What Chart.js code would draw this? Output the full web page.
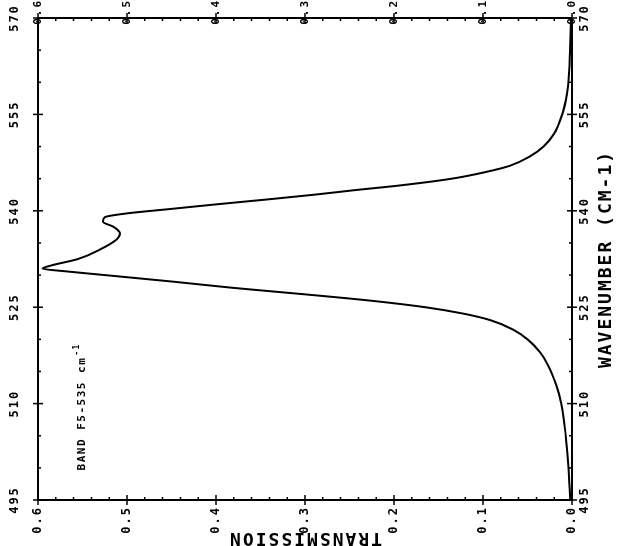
<!DOCTYPE html>
<html>
<head>
<meta charset="utf-8">
<script src="https://cdn.jsdelivr.net/npm/chart.js@4.4.1/dist/chart.umd.min.js"></script>
<style>
html, body { margin: 0; padding: 0; background: #fff; overflow: hidden; }
/* the whole plot is drawn upright, then turned a quarter turn to the left */
#wrap { position: absolute; left: 0; top: 0; width: 546px; height: 617px;
        transform-origin: 0 0; transform: translate(0, 546px) rotate(-90deg); }
</style>
</head>
<body>
<div id="wrap"><canvas id="c" width="546" height="617"></canvas></div>
<script>
// band profile
var wavenumber = [495, 500, 505, 510, 513, 516, 518, 520, 521.5, 523, 524, 525, 526, 527, 528, 529, 530, 530.6, 531,
                  531.5, 532.5, 534, 535.5, 536.5, 537.5, 538.3, 539, 539.6, 540.3, 541, 541.8, 542.5, 543.2, 544,
                  545, 546, 547, 548.5, 550, 552, 555, 558, 562, 566, 570];
var transmission = [0.002, 0.004, 0.007, 0.012, 0.018, 0.027, 0.036, 0.050, 0.066, 0.092, 0.122, 0.165, 0.225, 0.300,
                    0.380, 0.450, 0.525, 0.570, 0.595, 0.585, 0.555, 0.530, 0.512, 0.508, 0.515, 0.527, 0.525, 0.500,
                    0.450, 0.400, 0.340, 0.290, 0.245, 0.190, 0.135, 0.098, 0.070, 0.047, 0.032, 0.020, 0.011, 0.006,
                    0.003, 0.002, 0.001];

var xMajor = [495, 510, 525, 540, 555, 570];
var yMajor = [0, 0.1, 0.2, 0.3, 0.4, 0.5, 0.6];
var xMinorStep = 5;
var yMinorStep = 0.02;

var bandText = "BAND F5-535 cm";
var bandSup = "-1";

var points = wavenumber.map(function (w, i) { return { x: w, y: transmission[i] }; });

var monoFont = "'DejaVu Sans Mono', 'Liberation Mono', monospace";

// ticks that cross the frame, small inner ticks, and the band note
var plotterTicks = {
    id: "plotterTicks",
    beforeDraw: function (chart) {
        chart.ctx.letterSpacing = "2px";
    },
    afterDraw: function (chart) {
        var ctx = chart.ctx;
        var a = chart.chartArea;
        var sx = chart.scales.x;
        var sy = chart.scales.y;
        ctx.save();
        ctx.strokeStyle = "#000";
        ctx.lineWidth = 1.5;
        ctx.beginPath();
        for (var w = sx.min; w <= sx.max + 0.001; w += xMinorStep) {
            var px = sx.getPixelForValue(w);
            var major = xMajor.indexOf(Math.round(w)) >= 0;
            var o = major ? 5 : 0;
            var l = major ? 5 : 3;
            ctx.moveTo(px, a.top - o); ctx.lineTo(px, a.top + l);
            ctx.moveTo(px, a.bottom + o); ctx.lineTo(px, a.bottom - l);
        }
        for (var k = 0; k <= 30; k++) {
            var t = k * yMinorStep;
            var py = sy.getPixelForValue(t);
            var maj = k % 5 === 0;
            var o2 = maj ? 5 : 0;
            var l2 = maj ? 5 : 3;
            ctx.moveTo(a.left - o2, py); ctx.lineTo(a.left + l2, py);
            ctx.moveTo(a.right + o2, py); ctx.lineTo(a.right - l2, py);
        }
        ctx.stroke();

        // note in the upper left of the frame
        ctx.fillStyle = "#000";
        ctx.font = "bold 11px " + monoFont;
        ctx.letterSpacing = "1.5px";
        ctx.textBaseline = "middle";
        ctx.textAlign = "left";
        var bx = sx.getPixelForValue(499.6);
        var by = sy.getPixelForValue(0.55);
        ctx.fillText(bandText, bx, by);
        var wText = ctx.measureText(bandText).width;
        ctx.font = "bold 8px " + monoFont;
        ctx.fillText(bandSup, bx + wText + 1, by - 6);
        ctx.restore();
    }
};

var tickFont = { family: monoFont, size: 12, weight: "bold" };
var smallTickFont = { family: monoFont, size: 11, weight: "bold" };
var titleFont = { family: monoFont, size: 18, weight: "bold", lineHeight: 1 };

new Chart(document.getElementById("c").getContext("2d"), {
    type: "line",
    data: {
        datasets: [{
            data: points,
            xAxisID: "x",
            yAxisID: "y",
            borderColor: "#000",
            borderWidth: 2,
            pointRadius: 0,
            fill: false,
            cubicInterpolationMode: "monotone"
        }]
    },
    options: {
        responsive: false,
        animation: false,
        devicePixelRatio: 1,
        layout: { padding: 0 },
        plugins: { legend: { display: false }, tooltip: { enabled: false } },
        scales: {
            x: {
                type: "linear", position: "bottom", min: 495, max: 570,
                grid: { display: false, drawTicks: false },
                border: { display: true, color: "#000", width: 2 },
                ticks: { stepSize: 15, autoSkip: false, maxRotation: 0, padding: 6, color: "#000", font: tickFont },
                title: { display: true, text: "WAVENUMBER (CM-1)", color: "#000", font: titleFont, padding: { top: 0, bottom: 2 } },
                afterFit: function (s) { s.height = 45; }
            },
            x2: {
                type: "linear", position: "top", min: 495, max: 570,
                grid: { display: false, drawTicks: true, tickLength: 10 },
                border: { display: true, color: "#000", width: 2 },
                ticks: { stepSize: 15, autoSkip: false, maxRotation: 0, padding: 6, color: "#000", font: tickFont },
                afterFit: function (s) { s.height = 38; }
            },
            y: {
                type: "linear", position: "left", min: 0, max: 0.6,
                grid: { display: false, drawTicks: false },
                border: { display: true, color: "#000", width: 2 },
                ticks: { stepSize: 0.1, autoSkip: false, padding: 6, color: "#000", font: tickFont,
                         callback: function (v) { return v.toFixed(1); } },
                title: { display: true, text: "TRANSMISSION", color: "#000", font: titleFont, padding: { top: -1, bottom: 0 } },
                afterFit: function (s) { s.width = 46; }
            },
            y2: {
                type: "linear", position: "right", min: 0, max: 0.6,
                grid: { display: false, drawTicks: false },
                border: { display: true, color: "#000", width: 2 },
                // mirrored labels are not clipped to the narrow strip above the frame
                ticks: { stepSize: 0.1, autoSkip: false, mirror: true, padding: 19, color: "#000", font: smallTickFont,
                         callback: function (v) { return v.toFixed(1); } },
                afterFit: function (s) { s.width = 18; }
            }
        }
    },
    plugins: [plotterTicks]
});
</script>
</body>
</html>
